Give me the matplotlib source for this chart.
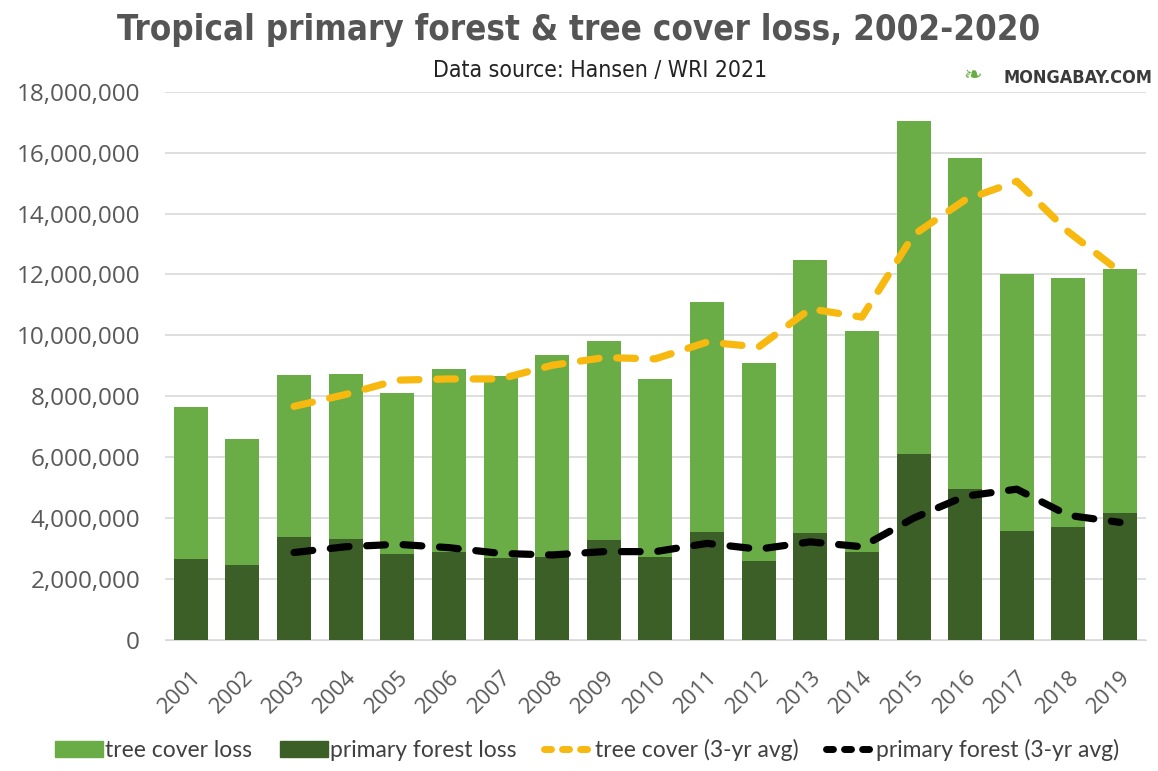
import matplotlib
matplotlib.use("Agg")
import matplotlib.pyplot as plt
import matplotlib.ticker as mticker
from matplotlib.lines import Line2D
from matplotlib.patches import Patch

# data (hectares)
years = list(range(2001, 2020))
tree_cover_loss = [7.66, 6.60, 8.71, 8.73, 8.11, 8.88, 8.66, 9.35, 9.81, 8.56,
                   11.09, 9.10, 12.46, 10.13, 17.03, 15.83, 12.03, 11.89, 12.18]
primary_loss = [2.65, 2.47, 3.38, 3.31, 2.82, 2.89, 2.69, 2.73, 3.28, 2.71,
                3.55, 2.59, 3.52, 2.90, 6.10, 4.95, 3.59, 3.71, 4.17]
avg_years = list(range(2003, 2020))
tree_avg = [7.67, 8.06, 8.53, 8.57, 8.57, 9.02, 9.27, 9.23, 9.78, 9.62,
            10.87, 10.60, 13.30, 14.45, 15.06, 13.40, 12.09]
primary_avg = [2.87, 3.06, 3.14, 3.03, 2.84, 2.79, 2.90, 2.90, 3.17, 2.98,
               3.22, 3.06, 4.00, 4.72, 4.95, 4.09, 3.86]

tree_cover_loss = [v * 1e6 for v in tree_cover_loss]
primary_loss = [v * 1e6 for v in primary_loss]
tree_avg = [v * 1e6 for v in tree_avg]
primary_avg = [v * 1e6 for v in primary_avg]

light = "#6aac46"
dark = "#3c5e27"
gold = "#f7b90f"
txt = "#595959"
dash = (0, (2.6, 2.45))

fig = plt.figure(figsize=(11.58, 7.71), dpi=100)
ax = fig.add_axes([0.1425, 0.170, 0.847, 0.711])

x = list(range(len(years)))
ax.bar(x, tree_cover_loss, width=0.66, color=light, zorder=2)
ax.bar(x, primary_loss, width=0.66, color=dark, zorder=3)

xa = [years.index(y) for y in avg_years]
ax.plot(xa, tree_avg, color=gold, lw=5.2, ls=dash,
        dash_capstyle="round", dash_joinstyle="round", zorder=4)
ax.plot(xa, primary_avg, color="black", lw=5.2, ls=dash,
        dash_capstyle="round", dash_joinstyle="round", zorder=4)

ax.set_ylim(0, 18e6)
ax.set_xlim(-0.5, len(years) - 0.5)
ax.yaxis.set_major_locator(mticker.MultipleLocator(2e6))
ax.yaxis.set_major_formatter(mticker.FuncFormatter(lambda v, p: f"{int(v):,}"))
ax.grid(axis="y", color="#d9d9d9", lw=1.2, zorder=0)
for s in ["top", "right", "left"]:
    ax.spines[s].set_visible(False)
ax.spines["bottom"].set_color("#d9d9d9")
ax.tick_params(axis="both", length=0, colors=txt)
ax.tick_params(axis="y", pad=18, labelsize=17.5)
ax.tick_params(axis="x", pad=19)
ax.set_xticks(x)
ax.set_xticklabels([str(y) for y in years], rotation=45, ha="right",
                   rotation_mode="anchor", fontsize=16, color=txt)
for lab in ax.get_yticklabels() + ax.get_xticklabels():
    lab.set_family("Open Sans")

cond = dict(family="DejaVu Sans", stretch="condensed")
fig.text(0.5, 0.961, "Tropical primary forest & tree cover loss, 2002-2020",
         ha="center", va="center", fontsize=25, fontweight="bold",
         color="#555555", **cond)
fig.text(0.518, 0.909, "Data source: Hansen / WRI 2021", ha="center",
         va="center", fontsize=16.5, color="#222222", **cond)
fig.text(0.995, 0.899, "MONGABAY.COM", ha="right", va="center",
         fontsize=13, fontweight="bold", color="#3a3a3a", **cond)
fig.text(0.840, 0.901, "\u2767", ha="center", va="center", fontsize=16,
         color="#6aac46", family="DejaVu Sans")

handles = [Patch(color=light), Patch(color=dark),
           Line2D([], [], color=gold, lw=5, ls=(0, (1.0, 1.6)), dash_capstyle="round"),
           Line2D([], [], color="black", lw=5, ls=(0, (1.0, 1.6)), dash_capstyle="round")]
labels = ["tree cover loss", "primary forest loss", "tree cover (3-yr avg)",
          "primary forest (3-yr avg)"]
leg = fig.legend(handles, labels, loc="center", bbox_to_anchor=(0.507, 0.027),
                 ncol=4, frameon=False, handlelength=2.1,
                 handleheight=0.7, handletextpad=0.1, columnspacing=1.2,
                 prop={"family": "Lato", "size": 16.5})
for t in leg.get_texts():
    t.set_color("#404040")

fig.savefig("out.png", dpi=100)
